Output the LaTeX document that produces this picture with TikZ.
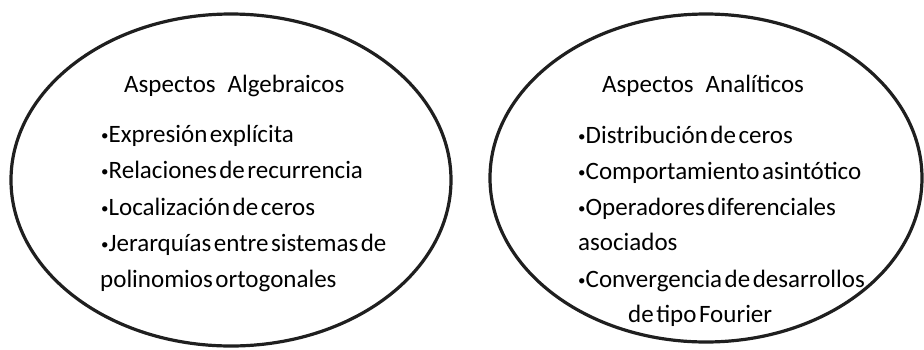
\documentclass[tikz,border=0pt]{standalone}
\usepackage{fontspec}
\setmainfont[WordSpace=0.45]{Carlito}
\usetikzlibrary{shapes.geometric}
\newcommand\bul{\raisebox{2pt}{\fontsize{15}{15}\selectfont •}}
\begin{document}
\begin{tikzpicture}[
        x=1pt, y=-1pt,
        oval/.style={ellipse, draw=black!88, line width=3.2pt, inner sep=0pt},
        txt/.style={anchor=base west, inner sep=0pt, font=\fontsize{25}{30}\selectfont},
    ]
        \useasboundingbox (0,0) rectangle (924,349);

        \node[oval, minimum width=440pt, minimum height=332pt] (alg) at (231,180) {};
        \node[oval, minimum width=432pt, minimum height=328pt] (ana) at (706,178) {};

        \node[txt] (algt) at (124,92) {Aspectos\hspace{12pt}Algebraicos};
        \node[txt] (alg1) at (101,142) {\bul Expresión explícita};
        \node[txt] (alg2) at (101,178) {\bul Relaciones de recurrencia};
        \node[txt] (alg3) at (101,215) {\bul Localización de ceros};
        \node[txt] (alg4) at (101,251) {\bul Jerarquías entre sistemas de};
        \node[txt] (alg5) at (100,287) {polinomios ortogonales};

        \node[txt] (anat) at (602,92) {Aspectos\hspace{12pt}Analíticos};
        \node[txt] (ana1) at (578,143) {\bul Distribución de ceros};
        \node[txt] (ana2) at (578,179) {\bul Comportamiento asintótico};
        \node[txt] (ana3) at (578,215) {\bul Operadores diferenciales};
        \node[txt] (ana4) at (578,250) {asociados};
        \node[txt] (ana5) at (578,287) {\bul Convergencia de desarrollos};
        \node[txt] (ana6) at (628,322) {de tipo Fourier};
    \end{tikzpicture}
\end{document}
